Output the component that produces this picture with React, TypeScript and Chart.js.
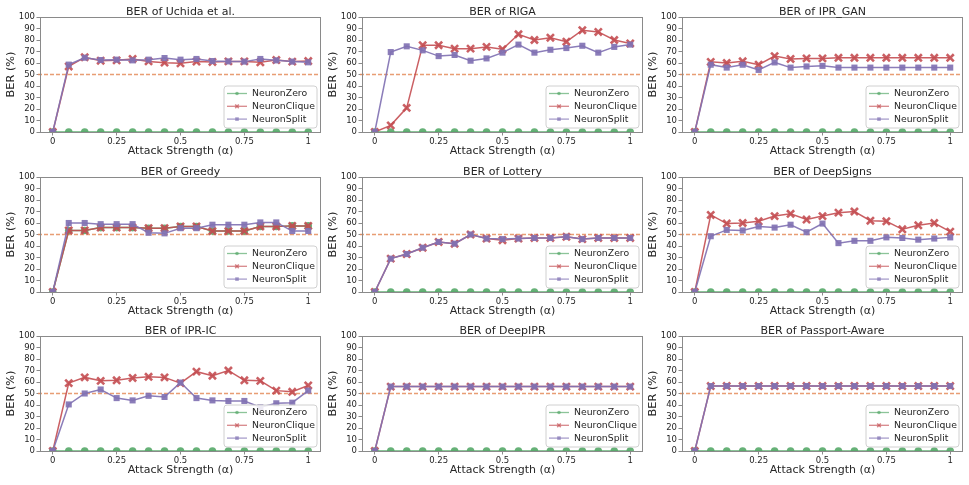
import React, { useEffect, useRef } from "react";
import { Chart, registerables } from "chart.js";

Chart.register(...registerables);

const xValues = [0, 0.0625, 0.125, 0.1875, 0.25, 0.3125, 0.375, 0.4375, 0.5, 0.5625, 0.625, 0.6875, 0.75, 0.8125, 0.875, 0.9375, 1];
const xTickValues = [0, 0.25, 0.5, 0.75, 1];
const yTickValues = [0, 10, 20, 30, 40, 50, 60, 70, 80, 90, 100];
const seriesNames = ["NeuronZero", "NeuronClique", "NeuronSplit"];
const thresholdValue = 50;

const panelTitles = [
  "BER of Uchida et al.",
  "BER of RIGA",
  "BER of IPR_GAN",
  "BER of Greedy",
  "BER of Lottery",
  "BER of DeepSigns",
  "BER of IPR-IC",
  "BER of DeepIPR",
  "BER of Passport-Aware",
];

const zeroFlat = [0, 0, 0, 0, 0, 0, 0, 0, 0, 0, 0, 0, 0, 0, 0, 0, 0];

const uchidaClique = [0, 57, 65, 62, 62.3, 63.5, 61.4, 60.3, 59.7, 61.2, 60.9, 61.4, 61.4, 60.6, 62.6, 61.2, 61.7];
const uchidaSplit = [0, 58.6, 64.6, 62.6, 62.9, 62.3, 62.9, 64.3, 62.9, 63.5, 61.7, 61.4, 61.2, 63.5, 62.3, 61.2, 60.6];

const rigaClique = [0, 5.8, 21, 75.5, 75.5, 72.5, 72.5, 74, 72, 85, 80, 82, 78.5, 88.5, 87, 80, 77];
const rigaSplit = [0, 69.5, 74.5, 71, 66, 67, 62, 64, 69, 76, 69, 71.5, 73, 75, 69, 74, 76];

const iprGanClique = [0, 61, 60, 61.5, 58.5, 66, 63.5, 64, 64, 64.5, 64.5, 64.5, 64.5, 64.5, 64.5, 64.5, 64.5];
const iprGanSplit = [0, 58.5, 56, 58.5, 54, 60.5, 56, 57, 57.5, 56, 56, 56, 56, 56, 56, 56, 56];

const greedyZero = [0, 53.5, 53.5, 56, 56, 56, 55.5, 55.5, 57, 57, 53, 53, 53, 57, 57, 57.5, 57.5];
const greedyClique = [0, 53.5, 53.5, 56, 56, 56, 55.5, 55.5, 57, 57, 53, 53, 53, 57, 57, 57.5, 57.5];
const greedySplit = [0, 60, 60, 59, 59, 59, 51.5, 51, 55.5, 55.5, 58.5, 58.5, 58.5, 60.5, 60.5, 53, 53];

const lotteryClique = [0, 29, 33, 38.5, 43.5, 42, 50, 46.5, 45, 46.5, 47, 47, 48, 46, 47, 47, 47];
const lotterySplit = [0, 29, 33, 38.5, 43.5, 42, 50, 46.5, 46, 46.5, 47, 47, 48, 46, 47, 47, 47];

const deepSignsClique = [0, 67, 59.5, 60, 61.5, 66, 68, 63, 66, 69, 70, 62, 61.5, 54.5, 58, 60, 52.5];
const deepSignsSplit = [0, 48.5, 54, 53.5, 57, 56, 58.5, 52, 59.5, 42.5, 44.5, 44.5, 47.5, 47, 45.5, 46.5, 47.5];

const iprIcClique = [0, 59, 64, 61, 61.5, 63.5, 64.5, 64, 59, 69, 65.5, 70, 61.5, 61, 52.5, 51.5, 57];
const iprIcSplit = [0, 40.5, 50, 53.5, 46, 44, 48, 47, 59.5, 46, 44, 43.5, 43.5, 38, 41.5, 42, 52.5];

const deepIprClique = [0, 56, 56, 56, 56, 56, 56, 56, 56, 56, 56, 56, 56, 56, 56, 56, 56];
const deepIprSplit = [0, 56, 56, 56, 56, 56, 56, 56, 56, 56, 56, 56, 56, 56, 56, 56, 56];

const passportClique = [0, 56.5, 56.5, 56.5, 56.5, 56.5, 56.5, 56.5, 56.5, 56.5, 56.5, 56.5, 56.5, 56.5, 56.5, 56.5, 56.5];
const passportSplit = [0, 56.5, 56.5, 56.5, 56.5, 56.5, 56.5, 56.5, 56.5, 56.5, 56.5, 56.5, 56.5, 56.5, 56.5, 56.5, 56.5];

const panelSeries = [
  [zeroFlat, uchidaClique, uchidaSplit],
  [zeroFlat, rigaClique, rigaSplit],
  [zeroFlat, iprGanClique, iprGanSplit],
  [greedyZero, greedyClique, greedySplit],
  [zeroFlat, lotteryClique, lotterySplit],
  [zeroFlat, deepSignsClique, deepSignsSplit],
  [zeroFlat, iprIcClique, iprIcSplit],
  [zeroFlat, deepIprClique, deepIprSplit],
  [zeroFlat, passportClique, passportSplit],
];

const FONT = "'DejaVu Sans', sans-serif";
const COLORS = ["rgba(85,168,104,0.9)", "rgba(196,78,82,0.9)", "rgba(129,114,179,0.92)"];
const STYLES = ["circle", "crossRot", "rect"];
const RADII = [3.8, 5, 4.3];
const SPINE = "#8a8a8a";
const TEXT = "#262626";

const CANVAS_W = 323;
const CANVAS_H = 160;
const colLefts = [0, 322, 642];
const rowTops = [0, 160, 319];

function drawMarker(ctx: CanvasRenderingContext2D, style: string, x: number, y: number, r: number, color: string) {
  ctx.save();
  ctx.fillStyle = color;
  ctx.strokeStyle = color;
  if (style === "circle") {
    ctx.beginPath();
    ctx.arc(x, y, r, 0, Math.PI * 2);
    ctx.fill();
  } else if (style === "rect") {
    ctx.fillRect(x - r, y - r, 2 * r, 2 * r);
  } else {
    ctx.lineWidth = 1.5;
    ctx.beginPath();
    ctx.moveTo(x - r, y - r);
    ctx.lineTo(x + r, y + r);
    ctx.moveTo(x - r, y + r);
    ctx.lineTo(x + r, y - r);
    ctx.stroke();
  }
  ctx.restore();
}

function makePanelPlugin(title: string) {
  return {
    id: "panelDecor",
    beforeDatasetsDraw(chart: any) {
      const { ctx, chartArea, scales } = chart;
      const y = scales.y.getPixelForValue(thresholdValue);
      ctx.save();
      ctx.strokeStyle = "rgba(228,140,92,0.85)";
      ctx.lineWidth = 1.4;
      ctx.setLineDash([4, 2]);
      ctx.beginPath();
      ctx.moveTo(chartArea.left - 2, y);
      ctx.lineTo(chartArea.right, y);
      ctx.stroke();
      ctx.setLineDash([]);
      ctx.restore();
    },
    afterDraw(chart: any) {
      const { ctx, chartArea } = chart;
      const L = chartArea.left;
      const R = chartArea.right;
      const T = chartArea.top;
      const B = chartArea.bottom;
      ctx.save();
      ctx.setLineDash([]);
      // frame
      ctx.strokeStyle = SPINE;
      ctx.lineWidth = 1;
      ctx.strokeRect(Math.round(L) + 0.5, Math.round(T) + 0.5, Math.round(R - L) - 1, Math.round(B - T));
      // title
      ctx.fillStyle = TEXT;
      ctx.font = `11px ${FONT}`;
      ctx.textAlign = "center";
      ctx.textBaseline = "alphabetic";
      ctx.fillText(title, (L + R) / 2, 14.5);
      // legend
      const bx = R - 97;
      const by = B - 46;
      const bw = 93;
      const bh = 42;
      ctx.beginPath();
      const rr = 3;
      ctx.moveTo(bx + rr, by);
      ctx.lineTo(bx + bw - rr, by);
      ctx.quadraticCurveTo(bx + bw, by, bx + bw, by + rr);
      ctx.lineTo(bx + bw, by + bh - rr);
      ctx.quadraticCurveTo(bx + bw, by + bh, bx + bw - rr, by + bh);
      ctx.lineTo(bx + rr, by + bh);
      ctx.quadraticCurveTo(bx, by + bh, bx, by + bh - rr);
      ctx.lineTo(bx, by + rr);
      ctx.quadraticCurveTo(bx, by, bx + rr, by);
      ctx.closePath();
      ctx.fillStyle = "rgba(255,255,255,0.85)";
      ctx.fill();
      ctx.strokeStyle = "#d0d0d0";
      ctx.lineWidth = 1;
      ctx.stroke();
      ctx.font = `9.3px ${FONT}`;
      ctx.textAlign = "left";
      ctx.textBaseline = "middle";
      for (let i = 0; i < 3; i++) {
        const cy = B - 38.5 + i * 12.8;
        ctx.strokeStyle = COLORS[i];
        ctx.globalAlpha = 0.75;
        ctx.lineWidth = 1.3;
        ctx.beginPath();
        ctx.moveTo(bx + 3, cy);
        ctx.lineTo(bx + 23, cy);
        ctx.stroke();
        drawMarker(ctx, STYLES[i], bx + 13, cy, 1.8, COLORS[i]);
        ctx.globalAlpha = 1;
        ctx.fillStyle = TEXT;
        ctx.fillText(seriesNames[i], bx + 28, cy + 0.5);
      }
      ctx.restore();
    },
  };
}

function Panel({ index }: { index: number }) {
  const ref = useRef<HTMLCanvasElement | null>(null);
  useEffect(() => {
    if (!ref.current) return;
    const series = panelSeries[index];
    const datasets = series.map((vals, si) => ({
      label: seriesNames[si],
      data: xValues.map((x, i) => ({ x, y: vals[i] })),
      borderColor: COLORS[si],
      backgroundColor: COLORS[si],
      pointBackgroundColor: COLORS[si],
      pointBorderColor: COLORS[si],
      pointStyle: STYLES[si],
      pointRadius: RADII[si],
      pointBorderWidth: si === 1 ? 2.6 : 0,
      borderWidth: 1.5,
      tension: 0,
      clip: 0,
      order: 3 - si,
    }));
    const chart = new Chart(ref.current, {
      type: "line",
      data: { datasets },
      options: {
        animation: false,
        responsive: false,
        maintainAspectRatio: false,
        events: [],
        layout: { autoPadding: false, padding: { top: 17, right: 2, left: 0, bottom: 0 } },
        plugins: {
          legend: { display: false },
          title: { display: false },
          tooltip: { enabled: false },
        },
        scales: {
          x: {
            type: "linear",
            min: -0.05,
            max: 1.05,
            afterBuildTicks: (scale: any) => {
              scale.ticks = xTickValues.map((v) => ({ value: v }));
            },
            afterFit: (scale: any) => {
              scale.height = 28;
              scale.paddingLeft = 0;
              scale.paddingRight = 0;
              scale.paddingTop = 0;
              scale.paddingBottom = 0;
            },
            border: { display: false },
            grid: { display: true, drawOnChartArea: false, drawTicks: true, tickLength: 3.5, color: SPINE, lineWidth: 1 },
            ticks: {
              autoSkip: false,
              maxRotation: 0,
              padding: 1,
              color: TEXT,
              font: { family: FONT, size: 8.5 },
              callback: (v: any) => String(v),
            },
            title: {
              display: true,
              text: "Attack Strength (α)",
              color: TEXT,
              font: { family: FONT, size: 11 },
              padding: { top: 0, bottom: 2 },
            },
          },
          y: {
            type: "linear",
            min: 0,
            max: 100,
            afterBuildTicks: (scale: any) => {
              scale.ticks = yTickValues.map((v) => ({ value: v }));
            },
            afterFit: (scale: any) => {
              scale.width = 40;
              scale.paddingLeft = 0;
              scale.paddingRight = 0;
              scale.paddingTop = 0;
              scale.paddingBottom = 0;
            },
            border: { display: false },
            grid: { display: true, drawOnChartArea: false, drawTicks: true, tickLength: 3.5, color: SPINE, lineWidth: 1 },
            ticks: {
              autoSkip: false,
              padding: 1.5,
              color: TEXT,
              font: { family: FONT, size: 8.5 },
              callback: (v: any) => String(v),
            },
            title: {
              display: true,
              text: "BER (%)",
              color: TEXT,
              font: { family: FONT, size: 11.3 },
              padding: { top: 4, bottom: 0 },
            },
          },
        },
      },
      plugins: [makePanelPlugin(panelTitles[index])],
    } as any);
    return () => chart.destroy();
  }, [index]);
  const col = index % 3;
  const row = Math.floor(index / 3);
  return (
    <canvas
      ref={ref}
      width={CANVAS_W}
      height={CANVAS_H}
      style={{ position: "absolute", left: colLefts[col], top: rowTops[row], width: CANVAS_W, height: CANVAS_H }}
    />
  );
}

export default function App() {
  return (
    <div style={{ position: "absolute", left: 0, top: 0, width: 969, height: 485, background: "#fff", overflow: "hidden" }}>
      {panelTitles.map((_, i) => (
        <Panel key={i} index={i} />
      ))}
    </div>
  );
}
